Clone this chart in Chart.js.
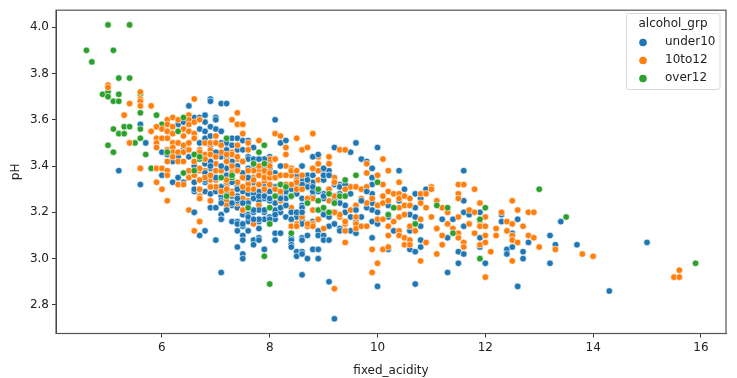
<!DOCTYPE html>
<html>
<head>
<meta charset="utf-8">
<title>fixed_acidity vs pH</title>
<script src="https://cdn.jsdelivr.net/npm/chart.js@4"></script>
<style>
  html, body { margin: 0; padding: 0; background: #fff; }
  canvas { display: block; }
</style>
</head>
<body>
<canvas id="chart" width="737" height="378"></canvas>
<script>
const xTicks = [6, 8, 10, 12, 14, 16];
const yTicks = [2.8, 3.0, 3.2, 3.4, 3.6, 3.8, 4.0];
const groupNames = ["under10", "10to12", "over12"];
const groupColors = ["#1f77b4", "#ff7f0e", "#2ca02c"];

// [fixed_acidity, pH]
const under10 = [
  [5.2,3.38],[5.6,3.58],[5.6,3.32],[5.7,3.5],[6.0,3.36],[6.0,3.46],[6.1,3.45],[6.2,3.33],[6.2,3.42],[6.3,3.35],
  [6.3,3.58],[6.3,3.44],[6.4,3.33],[6.4,3.59],[6.4,3.47],[6.5,3.66],[6.5,3.44],[6.6,3.61],[6.6,3.33],[6.6,3.29],
  [6.6,3.2],[6.7,3.61],[6.7,3.56],[6.7,3.5],[6.7,3.45],[6.7,3.1],[6.8,3.62],[6.8,3.59],[6.8,3.55],[6.8,3.52],
  [6.8,3.41],[6.8,3.33],[6.8,3.29],[6.8,3.12],[6.9,3.69],[6.9,3.68],[6.9,3.57],[6.9,3.53],[6.9,3.49],[6.9,3.45],
  [6.9,3.39],[6.9,3.31],[6.9,3.28],[6.9,3.22],[7.0,3.61],[7.0,3.6],[7.0,3.56],[7.0,3.35],[7.0,3.29],[7.0,3.22],
  [7.0,3.08],[7.1,3.67],[7.1,3.55],[7.1,3.5],[7.1,3.44],[7.1,3.31],[7.1,3.27],[7.1,3.25],[7.1,3.19],[7.1,3.17],
  [7.1,2.94],[7.2,3.67],[7.2,3.5],[7.2,3.47],[7.2,3.39],[7.2,3.36],[7.2,3.31],[7.2,3.21],[7.3,3.6],[7.3,3.52],
  [7.3,3.49],[7.3,3.29],[7.3,3.27],[7.3,3.23],[7.3,3.16],[7.4,3.52],[7.4,3.47],[7.4,3.31],[7.4,3.27],[7.4,3.22],
  [7.4,3.16],[7.4,3.12],[7.4,3.05],[7.5,3.51],[7.5,3.47],[7.5,3.29],[7.5,3.19],[7.5,3.14],[7.5,3.1],[7.5,3.08],
  [7.5,3.02],[7.5,3.0],[7.6,3.51],[7.6,3.44],[7.6,3.43],[7.6,3.31],[7.6,3.28],[7.6,3.19],[7.6,3.16],[7.6,3.12],
  [7.7,3.48],[7.7,3.39],[7.7,3.26],[7.7,3.2],[7.7,3.16],[7.7,3.08],[7.7,3.06],[7.8,3.43],[7.8,3.25],[7.8,3.22],
  [7.8,3.16],[7.8,3.13],[7.8,3.09],[7.8,3.08],[7.9,3.43],[7.9,3.26],[7.9,3.2],[7.9,3.17],[7.9,3.04],[8.0,3.44],
  [8.0,3.42],[8.0,3.39],[8.0,3.18],[8.1,3.6],[8.1,3.37],[8.1,3.24],[8.1,3.17],[8.1,3.11],[8.1,3.08],[8.2,3.5],
  [8.2,3.2],[8.2,3.11],[8.3,3.51],[8.3,3.28],[8.3,3.26],[8.3,3.18],[8.4,3.39],[8.4,3.2],[8.4,3.09],[8.4,3.08],
  [8.4,3.06],[8.4,3.05],[8.5,3.36],[8.5,3.32],[8.5,3.2],[8.5,3.18],[8.5,3.03],[8.5,3.01],[8.6,3.4],[8.6,3.34],
  [8.6,3.31],[8.6,3.26],[8.6,3.23],[8.6,3.17],[8.6,3.15],[8.6,3.09],[8.6,3.08],[8.6,3.03],[8.6,3.02],[8.6,2.93],
  [8.7,3.36],[8.7,3.31],[8.7,3.14],[8.7,3.1],[8.7,3.0],[8.8,3.44],[8.8,3.36],[8.8,3.33],[8.8,3.27],[8.8,3.16],
  [8.8,3.04],[8.9,3.17],[8.9,3.12],[8.9,3.1],[8.9,3.04],[8.9,3.0],[9.0,3.38],[9.0,3.36],[9.0,3.34],[9.0,3.28],
  [9.0,3.2],[9.0,3.1],[9.0,3.08],[9.1,3.38],[9.1,3.18],[9.1,3.14],[9.1,3.08],[9.1,2.9],[9.2,3.48],[9.2,3.32],
  [9.2,3.24],[9.2,3.15],[9.2,2.74],[9.3,3.32],[9.3,3.28],[9.3,3.13],[9.3,3.12],[9.4,3.31],[9.4,3.23],[9.4,3.2],
  [9.4,3.12],[9.5,3.46],[9.5,3.18],[9.5,3.12],[9.6,3.5],[9.6,3.16],[9.6,3.11],[9.7,3.43],[9.7,3.18],[9.8,3.42],
  [9.8,3.22],[9.9,3.39],[9.9,3.35],[9.9,3.32],[9.9,3.28],[9.9,3.24],[9.9,3.21],[9.9,3.16],[9.9,3.09],[10.0,3.48],
  [10.0,3.36],[10.0,3.2],[10.0,3.15],[10.0,2.88],[10.2,3.23],[10.2,3.18],[10.2,3.04],[10.3,3.12],[10.4,3.38],[10.4,3.25],
  [10.5,3.3],[10.6,3.19],[10.6,3.12],[10.6,3.04],[10.7,3.28],[10.7,3.22],[10.7,3.18],[10.7,3.03],[10.7,2.89],[10.8,3.26],
  [10.8,3.14],[10.8,3.08],[10.8,3.05],[10.9,3.3],[11.1,3.13],[11.2,3.17],[11.3,3.09],[11.3,2.94],[11.4,3.17],[11.5,3.03],
  [11.5,2.98],[11.6,3.38],[11.6,3.25],[11.6,3.2],[11.6,3.14],[11.6,3.02],[11.7,3.19],[11.9,3.2],[11.9,3.09],[11.9,3.05],
  [12.0,2.98],[12.3,3.19],[12.3,3.16],[12.4,3.04],[12.4,3.02],[12.5,3.11],[12.5,3.05],[12.6,3.17],[12.6,2.88],[12.7,3.03],
  [12.7,3.0],[12.8,3.07],[13.2,3.1],[13.2,2.98],[13.3,3.06],[13.4,3.16],[13.7,3.06],[14.3,2.86],[15.0,3.07]
];
const under10Front = [
  [6.6,3.4],[6.8,3.37],[6.9,3.42],[7.0,3.46],[7.1,3.4],[7.2,3.44],[7.3,3.36],[7.3,3.42],[7.4,3.4],[7.5,3.37],
  [7.6,3.35],[7.6,3.39],[7.7,3.33],[7.8,3.29],[7.8,3.36],[7.9,3.31],[8.0,3.29],[8.0,3.25],[8.1,3.31],[8.1,3.21],
  [8.2,3.28],[8.3,3.23],[8.4,3.3],[8.5,3.28],[8.6,3.22],[8.7,3.25],[8.8,3.29],[8.9,3.21],[9.0,3.26],[9.1,3.3],
  [9.2,3.2],[9.3,3.24],[9.5,3.28],[9.6,3.21],[9.7,3.25],[9.8,3.29],[7.2,3.28],[7.4,3.25],[7.6,3.24],[7.7,3.28],
  [6.9,3.4],[7.0,3.35],[7.2,3.36],[6.8,3.34],[6.6,3.3],[7.3,3.33],[7.4,3.3],[7.4,3.26],[7.3,3.24],[7.5,3.24],
  [7.7,3.26],[7.8,3.27],[7.9,3.27],[8.0,3.26],[8.2,3.26],[8.2,3.22],[7.8,3.21],[7.9,3.21],[7.7,3.21],[8.1,3.19],
  [8.4,3.2],[8.5,3.2],[8.6,3.2],[8.7,3.31],[8.7,3.34],[8.6,3.32],[8.6,3.4],[8.8,3.31],[8.9,3.29],[9.0,3.27],
  [9.0,3.34],[9.0,3.36],[9.0,3.39],[8.8,3.44],[8.9,3.45],[9.1,3.36],[9.3,3.31],[9.4,3.32],[9.2,3.25],[8.4,3.27],
  [8.3,3.23],[8.2,3.32],[7.9,3.4],[7.7,3.43],[7.9,3.43],[7.8,3.43],[8.2,3.4],[8.3,3.29],[7.8,3.17],[7.1,3.17],
  [6.9,3.22],[7.0,3.22],[7.2,3.21],[7.1,3.24],[6.6,3.2],[7.1,3.31],[7.4,3.15],[7.5,3.15],[7.6,3.18],[7.7,3.17],
  [8.0,3.17],[8.4,3.17],[9.0,3.19],[9.1,3.18]
];
const tenTo12 = [
  [5.0,3.75],[5.0,3.74],[5.3,3.62],[5.4,3.67],[5.4,3.5],[5.6,3.72],[5.6,3.69],[5.6,3.68],[5.6,3.66],[5.6,3.39],
  [5.8,3.66],[5.8,3.55],[5.9,3.57],[5.9,3.52],[5.9,3.5],[5.9,3.48],[5.9,3.33],[5.9,3.39],[6.0,3.56],[6.0,3.52],
  [6.0,3.39],[6.0,3.3],[6.1,3.6],[6.1,3.58],[6.1,3.55],[6.1,3.52],[6.1,3.47],[6.1,3.42],[6.1,3.38],[6.1,3.36],
  [6.1,3.25],[6.2,3.61],[6.2,3.57],[6.2,3.54],[6.2,3.5],[6.2,3.48],[6.2,3.46],[6.2,3.44],[6.3,3.6],[6.3,3.5],
  [6.3,3.46],[6.3,3.42],[6.3,3.32],[6.4,3.56],[6.4,3.53],[6.4,3.49],[6.4,3.46],[6.4,3.42],[6.4,3.32],[6.5,3.62],
  [6.5,3.6],[6.5,3.58],[6.5,3.55],[6.5,3.5],[6.5,3.47],[6.5,3.38],[6.5,3.35],[6.5,3.21],[6.6,3.69],[6.6,3.59],
  [6.6,3.54],[6.6,3.52],[6.6,3.45],[6.6,3.42],[6.6,3.12],[6.7,3.6],[6.7,3.47],[6.7,3.38],[6.7,3.34],[6.7,3.3],
  [6.7,3.27],[6.7,3.26],[6.7,3.16],[6.8,3.5],[6.8,3.45],[6.8,3.43],[6.8,3.38],[6.8,3.35],[6.9,3.5],[6.9,3.47],
  [6.9,3.42],[6.9,3.34],[6.9,3.25],[7.0,3.53],[7.0,3.5],[7.0,3.44],[7.0,3.41],[7.0,3.38],[7.0,3.34],[7.1,3.49],
  [7.1,3.46],[7.1,3.38],[7.1,3.29],[7.1,3.24],[7.2,3.43],[7.2,3.33],[7.2,3.25],[7.2,3.23],[7.3,3.6],[7.3,3.46],
  [7.3,3.41],[7.3,3.38],[7.3,3.29],[7.4,3.63],[7.4,3.58],[7.4,3.49],[7.4,3.43],[7.4,3.38],[7.4,3.33],[7.4,3.24],
  [7.5,3.58],[7.5,3.54],[7.5,3.42],[7.5,3.35],[7.5,3.26],[7.5,3.21],[7.6,3.5],[7.6,3.47],[7.6,3.34],[7.6,3.25],
  [7.7,3.35],[7.7,3.32],[7.7,3.15],[7.8,3.51],[7.8,3.4],[7.8,3.38],[7.8,3.32],[7.8,3.23],[7.9,3.36],[7.9,3.33],
  [7.9,3.31],[7.9,3.28],[8.0,3.43],[8.0,3.31],[8.1,3.54],[8.1,3.43],[8.1,3.35],[8.1,3.31],[8.2,3.53],[8.2,3.4],
  [8.2,3.25],[8.2,3.22],[8.3,3.48],[8.3,3.45],[8.3,3.4],[8.3,3.36],[8.4,3.39],[8.4,3.36],[8.4,3.22],[8.4,3.17],
  [8.4,3.14],[8.5,3.52],[8.5,3.38],[8.5,3.34],[8.5,3.28],[8.5,3.15],[8.5,3.14],[8.6,3.47],[8.6,3.18],[8.7,3.48],
  [8.7,3.33],[8.7,3.26],[8.7,3.14],[8.8,3.54],[8.8,3.39],[8.8,3.26],[8.8,3.21],[8.8,3.15],[8.8,3.14],[8.9,3.44],
  [8.9,3.41],[8.9,3.38],[8.9,3.34],[8.9,3.17],[9.0,3.13],[9.1,3.44],[9.1,3.41],[9.1,3.36],[9.1,3.25],[9.1,3.2],
  [9.2,3.35],[9.2,3.24],[9.2,3.2],[9.2,2.87],[9.3,3.47],[9.3,3.31],[9.3,3.27],[9.3,3.18],[9.4,3.47],[9.4,3.15],
  [9.4,3.12],[9.4,3.07],[9.5,3.31],[9.5,3.21],[9.6,3.31],[9.6,3.23],[9.6,3.18],[9.6,3.15],[9.6,3.13],[9.7,3.3],
  [9.7,3.26],[9.7,3.14],[9.8,3.41],[9.8,3.37],[9.8,3.31],[9.8,3.24],[9.8,3.14],[9.9,3.26],[9.9,3.04],[9.9,2.94],
  [10.0,3.36],[10.0,3.23],[10.0,3.17],[10.0,2.98],[10.1,3.43],[10.1,3.32],[10.1,3.27],[10.1,3.24],[10.1,3.17],[10.1,3.04],
  [10.2,3.38],[10.2,3.29],[10.2,3.25],[10.2,3.14],[10.2,3.1],[10.2,3.05],[10.3,3.28],[10.3,3.16],[10.4,3.33],[10.4,3.28],
  [10.4,3.26],[10.4,3.22],[10.4,3.18],[10.4,3.12],[10.4,3.1],[10.5,3.27],[10.5,3.23],[10.5,3.19],[10.5,3.09],[10.5,3.06],
  [10.6,3.26],[10.6,3.23],[10.6,3.14],[10.6,3.08],[10.6,3.06],[10.7,3.12],[10.8,3.28],[10.8,3.24],[10.8,3.17],[10.8,2.99],
  [10.9,3.28],[10.9,3.22],[10.9,3.07],[11.0,3.31],[11.0,3.3],[11.0,3.18],[11.1,3.25],[11.1,3.13],[11.1,3.02],[11.2,3.22],
  [11.2,3.1],[11.2,3.06],[11.3,3.2],[11.3,3.15],[11.4,3.13],[11.5,3.32],[11.5,3.28],[11.5,3.26],[11.5,3.18],[11.5,3.11],
  [11.5,3.09],[11.6,3.32],[11.6,3.07],[11.6,3.05],[11.7,3.21],[11.7,3.15],[11.8,3.3],[11.8,3.2],[11.8,3.11],[11.9,3.24],
  [11.9,3.16],[11.9,3.14],[11.9,3.06],[12.0,3.18],[12.0,3.14],[12.0,3.1],[12.0,3.07],[12.0,2.92],[12.1,3.03],[12.2,3.13],
  [12.2,3.1],[12.3,3.2],[12.4,3.16],[12.4,3.12],[12.5,3.25],[12.5,3.15],[12.5,3.1],[12.5,3.08],[12.5,2.99],[12.6,3.21],
  [12.6,3.07],[12.7,3.14],[12.8,3.2],[12.8,3.1],[12.9,3.2],[12.9,3.09],[13.0,3.05],[13.3,3.04],[13.8,3.02],[14.0,3.01],
  [15.5,2.92],[15.6,2.95],[15.6,2.92]
];
const tenTo12Front = [
  [6.7,3.46],[6.9,3.45],[7.0,3.44],[7.3,3.45],[6.6,3.42],[6.8,3.43],[7.2,3.42],[7.3,3.4],[7.5,3.42],[7.8,3.4],
  [7.7,3.38],[8.0,3.4],[8.1,3.43],[6.7,3.39],[6.6,3.36],[6.8,3.35],[6.7,3.34],[6.9,3.36],[7.3,3.37],[7.4,3.38],
  [7.5,3.35],[7.6,3.38],[7.6,3.32],[7.6,3.3],[7.7,3.34],[7.7,3.3],[7.8,3.36],[7.8,3.32],[7.9,3.38],[7.9,3.35],
  [7.9,3.3],[8.0,3.35],[8.0,3.32],[8.1,3.35],[8.1,3.3],[8.2,3.36],[8.3,3.36],[8.3,3.32],[8.4,3.38],[8.5,3.38],
  [8.5,3.33],[8.6,3.36],[7.2,3.34],[7.0,3.31],[6.7,3.3],[6.7,3.26],[6.9,3.25],[7.1,3.29],[7.2,3.3],[7.3,3.28],
  [7.5,3.21],[7.5,3.31],[8.2,3.29],[8.5,3.3],[8.6,3.3],[8.7,3.26],[8.8,3.39],[8.9,3.41],[9.1,3.41],[9.1,3.3],
  [9.2,3.33],[9.2,3.27],[9.4,3.3],[9.4,3.16],[9.3,3.19],[9.2,3.2],[8.9,3.17],[8.7,3.15],[8.4,3.32],[8.0,3.37],
  [6.9,3.31],[7.4,3.44],[7.2,3.45],[6.7,3.16]
];
const over12 = [
  [4.6,3.9],[4.7,3.85],[4.9,3.71],[5.0,4.01],[5.0,3.72],[5.0,3.7],[5.0,3.49],[5.1,3.9],[5.1,3.68],[5.1,3.56],
  [5.1,3.46],[5.2,3.78],[5.2,3.71],[5.2,3.68],[5.2,3.54],[5.3,3.57],[5.3,3.54],[5.4,4.01],[5.4,3.78],[5.4,3.57],
  [5.5,3.5],[5.6,3.71],[5.6,3.63],[5.6,3.56],[5.6,3.52],[5.7,3.45],[5.8,3.39],[5.9,3.62],[6.0,3.58]
];
const over12Front = [
  [6.1,3.46],[6.3,3.55],[6.4,3.61],[6.4,3.37],[6.6,3.38],[6.6,3.45],[6.7,3.43],[7.1,3.35],[7.2,3.52],[7.2,3.27],
  [7.3,3.35],[7.6,3.22],[7.7,3.41],[7.8,3.46],[7.9,3.49],[7.9,3.41],[7.9,3.01],[8.0,3.22],[8.0,3.15],[8.0,2.89],
  [8.1,3.27],[8.2,3.32],[8.3,3.31],[8.4,3.27],[8.4,3.11],[8.7,3.24],[8.9,3.3],[8.9,3.25],[8.9,3.21],[9.0,3.22],
  [9.1,3.28],[9.1,3.2],[9.2,3.24],[9.3,3.27],[9.4,3.34],[9.4,3.27],[9.6,3.36],[10.0,3.33],[10.2,3.19],[10.3,3.22],
  [10.7,3.15],[11.1,3.23],[11.3,3.22],[11.4,3.11],[11.9,3.17],[11.9,3.0],[12.0,3.22],[13.0,3.3],[13.5,3.18],[15.9,2.98],
  [7.3,3.36],[6.7,3.44]
];

const toPoints = rows => rows.map(r => ({ x: r[0], y: r[1] }));

function scatterLayer(label, rows, color, drawOrder) {
  return {
    label: label,
    data: toPoints(rows),
    backgroundColor: color,
    borderColor: "rgba(255,255,255,0.85)",
    borderWidth: 0.75,
    pointRadius: 3.3,
    order: drawOrder
  };
}

// matplotlib style frame on all four sides
const frame = {
  id: "frame",
  afterDatasetsDraw(chart) {
    const a = chart.chartArea;
    const c = chart.ctx;
    c.save();
    c.strokeStyle = "#555";
    c.lineWidth = 1.2;
    c.strokeRect(a.left, a.top, a.right - a.left, a.bottom - a.top);
    c.restore();
  }
};

// seaborn legend sits inside the axes, top right
const innerLegend = {
  id: "innerLegend",
  afterDraw(chart) {
    const c = chart.ctx;
    c.save();
    c.fillStyle = "rgba(255,255,255,0.8)";
    c.strokeStyle = "#d8d8d8";
    c.lineWidth = 1;
    c.beginPath();
    c.roundRect(626.5, 13.5, 93.5, 76, 2);
    c.fill();
    c.stroke();
    c.font = "12px 'DejaVu Sans'";
    c.textBaseline = "middle";
    c.textAlign = "center";
    c.fillStyle = "#222";
    c.fillText("alcohol_grp", 673, 24);
    c.textAlign = "left";
    groupNames.forEach((name, i) => {
      const y = 42.5 + i * 18;
      c.beginPath();
      c.arc(643, y, 3.8, 0, Math.PI * 2);
      c.fillStyle = groupColors[i];
      c.fill();
      c.fillStyle = "#222";
      c.fillText(name, 665, y - 1);
    });
    c.restore();
  }
};

new Chart(document.getElementById("chart"), {
  type: "scatter",
  data: {
    datasets: [
      scatterLayer(groupNames[0], under10, groupColors[0], 6),
      scatterLayer(groupNames[1], tenTo12, groupColors[1], 4),
      scatterLayer(groupNames[2], over12, groupColors[2], 5),
      scatterLayer(groupNames[0], under10Front, groupColors[0], 3),
      scatterLayer(groupNames[1], tenTo12Front, groupColors[1], 2),
      scatterLayer(groupNames[2], over12Front, groupColors[2], 1)
    ]
  },
  options: {
    responsive: false,
    animation: false,
    layout: { padding: { top: 6.5, right: 11, left: 0, bottom: 0 } },
    plugins: {
      legend: { display: false },
      tooltip: { enabled: false }
    },
    scales: {
      x: {
        min: 4.035,
        max: 16.465,
        afterBuildTicks: axis => { axis.ticks = xTicks.map(v => ({ value: v })); },
        afterFit: axis => { axis.height = 44.5; },
        grid: { drawOnChartArea: false, tickLength: 4, tickColor: "#333" },
        border: { color: "#333" },
        ticks: { color: "#222", font: { family: "'DejaVu Sans'", size: 12 }, padding: 3, maxRotation: 0 },
        title: { display: true, text: "fixed_acidity", color: "#222", font: { family: "'DejaVu Sans'", size: 12 }, padding: { top: 3, bottom: 0 } }
      },
      y: {
        min: 2.6765,
        max: 4.0735,
        afterBuildTicks: axis => { axis.ticks = yTicks.map(v => ({ value: v })); },
        afterFit: axis => { axis.width = 56; },
        grid: { drawOnChartArea: false, tickLength: 4, tickColor: "#333" },
        border: { color: "#333" },
        ticks: { color: "#222", font: { family: "'DejaVu Sans'", size: 12 }, padding: 3, callback: v => v.toFixed(1) },
        title: { display: true, text: "pH", color: "#222", font: { family: "'DejaVu Sans'", size: 12 }, padding: { top: 9, bottom: 0 } }
      }
    }
  },
  plugins: [frame, innerLegend]
});
</script>
</body>
</html>
